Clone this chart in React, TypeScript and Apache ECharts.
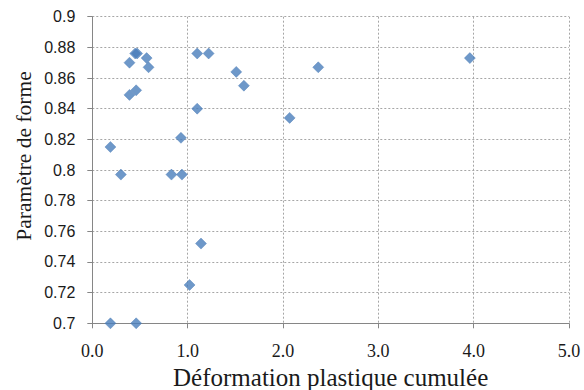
import React, { useEffect, useRef } from "react";
import * as echarts from "echarts";

const deformation = [0.19, 0.30, 0.39, 0.45, 0.47, 0.57, 0.59, 0.39, 0.46, 1.10, 1.22, 1.10, 0.93, 0.83, 0.94, 1.51, 1.59, 2.07, 2.37, 3.96, 1.14, 1.02, 0.19, 0.46];
const parametre = [0.815, 0.797, 0.870, 0.876, 0.876, 0.873, 0.867, 0.849, 0.852, 0.876, 0.876, 0.840, 0.821, 0.797, 0.797, 0.864, 0.855, 0.834, 0.867, 0.873, 0.752, 0.725, 0.700, 0.700];

const xTitle = "Déformation plastique cumulée";
const yTitle = "Paramètre de forme";

export default function App() {
  const ref = useRef<HTMLDivElement>(null);
  useEffect(() => {
    if (!ref.current) return;
    document.body.style.margin = "0";
    const chart = echarts.init(ref.current, null, { renderer: "svg", width: 584, height: 390 });
    const data = deformation.map((x, i) => [x, parametre[i]]);
    const gridColor = "#a6a6a6";
    const axisColor = "#868686";
    chart.setOption({
      animation: false,
      grid: {
        left: 92.3,
        top: 16.7,
        width: 476.7,
        height: 306.6,
        containLabel: false,
        outerBoundsMode: "none",
      },
      xAxis: {
        type: "value",
        min: 0,
        max: 5,
        interval: 1,
        name: xTitle,
        nameLocation: "middle",
        nameGap: 37,
        nameTextStyle: { fontFamily: "Liberation Serif", fontSize: 25, color: "#1a1a1a" },
        axisLine: { show: true, lineStyle: { color: axisColor, width: 1 } },
        axisTick: { show: true, length: 5, inside: false, lineStyle: { color: axisColor } },
        axisLabel: {
          formatter: (v: number) => v.toFixed(1),
          fontFamily: "Liberation Serif",
          fontSize: 18,
          color: "#1a1a1a",
          margin: 19,
        },
        splitLine: { show: true, lineStyle: { color: gridColor, type: [2, 2], width: 1 } },
      },
      yAxis: {
        type: "value",
        min: 0.7,
        max: 0.9,
        interval: 0.02,
        axisLine: { show: true, onZero: false, lineStyle: { color: axisColor, width: 1 } },
        axisTick: { show: true, length: 5, inside: false, lineStyle: { color: axisColor } },
        axisLabel: {
          formatter: (v: number) => String(parseFloat(v.toFixed(2))),
          fontFamily: "Liberation Sans",
          fontSize: 16,
          color: "#1a1a1a",
          margin: 17,
        },
        splitLine: { show: true, lineStyle: { color: gridColor, type: [2, 2], width: 1 } },
      },
      graphic: [
        {
          type: "text",
          x: 24,
          y: 156,
          rotation: Math.PI / 2,
          style: {
            text: yTitle,
            fontFamily: "Liberation Serif",
            fontSize: 21.5,
            fill: "#1a1a1a",
            align: "center",
            verticalAlign: "middle",
          },
        },
      ],
      series: [
        {
          type: "scatter",
          data,
          symbol: "diamond",
          symbolSize: 11,
          itemStyle: { color: "#4a7ebb", borderColor: "#4577b3", borderWidth: 0.5 },
        },
      ],
    });
    return () => chart.dispose();
  }, []);
  return (
    <div
      ref={ref}
      style={{ position: "fixed", left: 0, top: 0, width: 584, height: 390, background: "#fff" }}
    />
  );
}
